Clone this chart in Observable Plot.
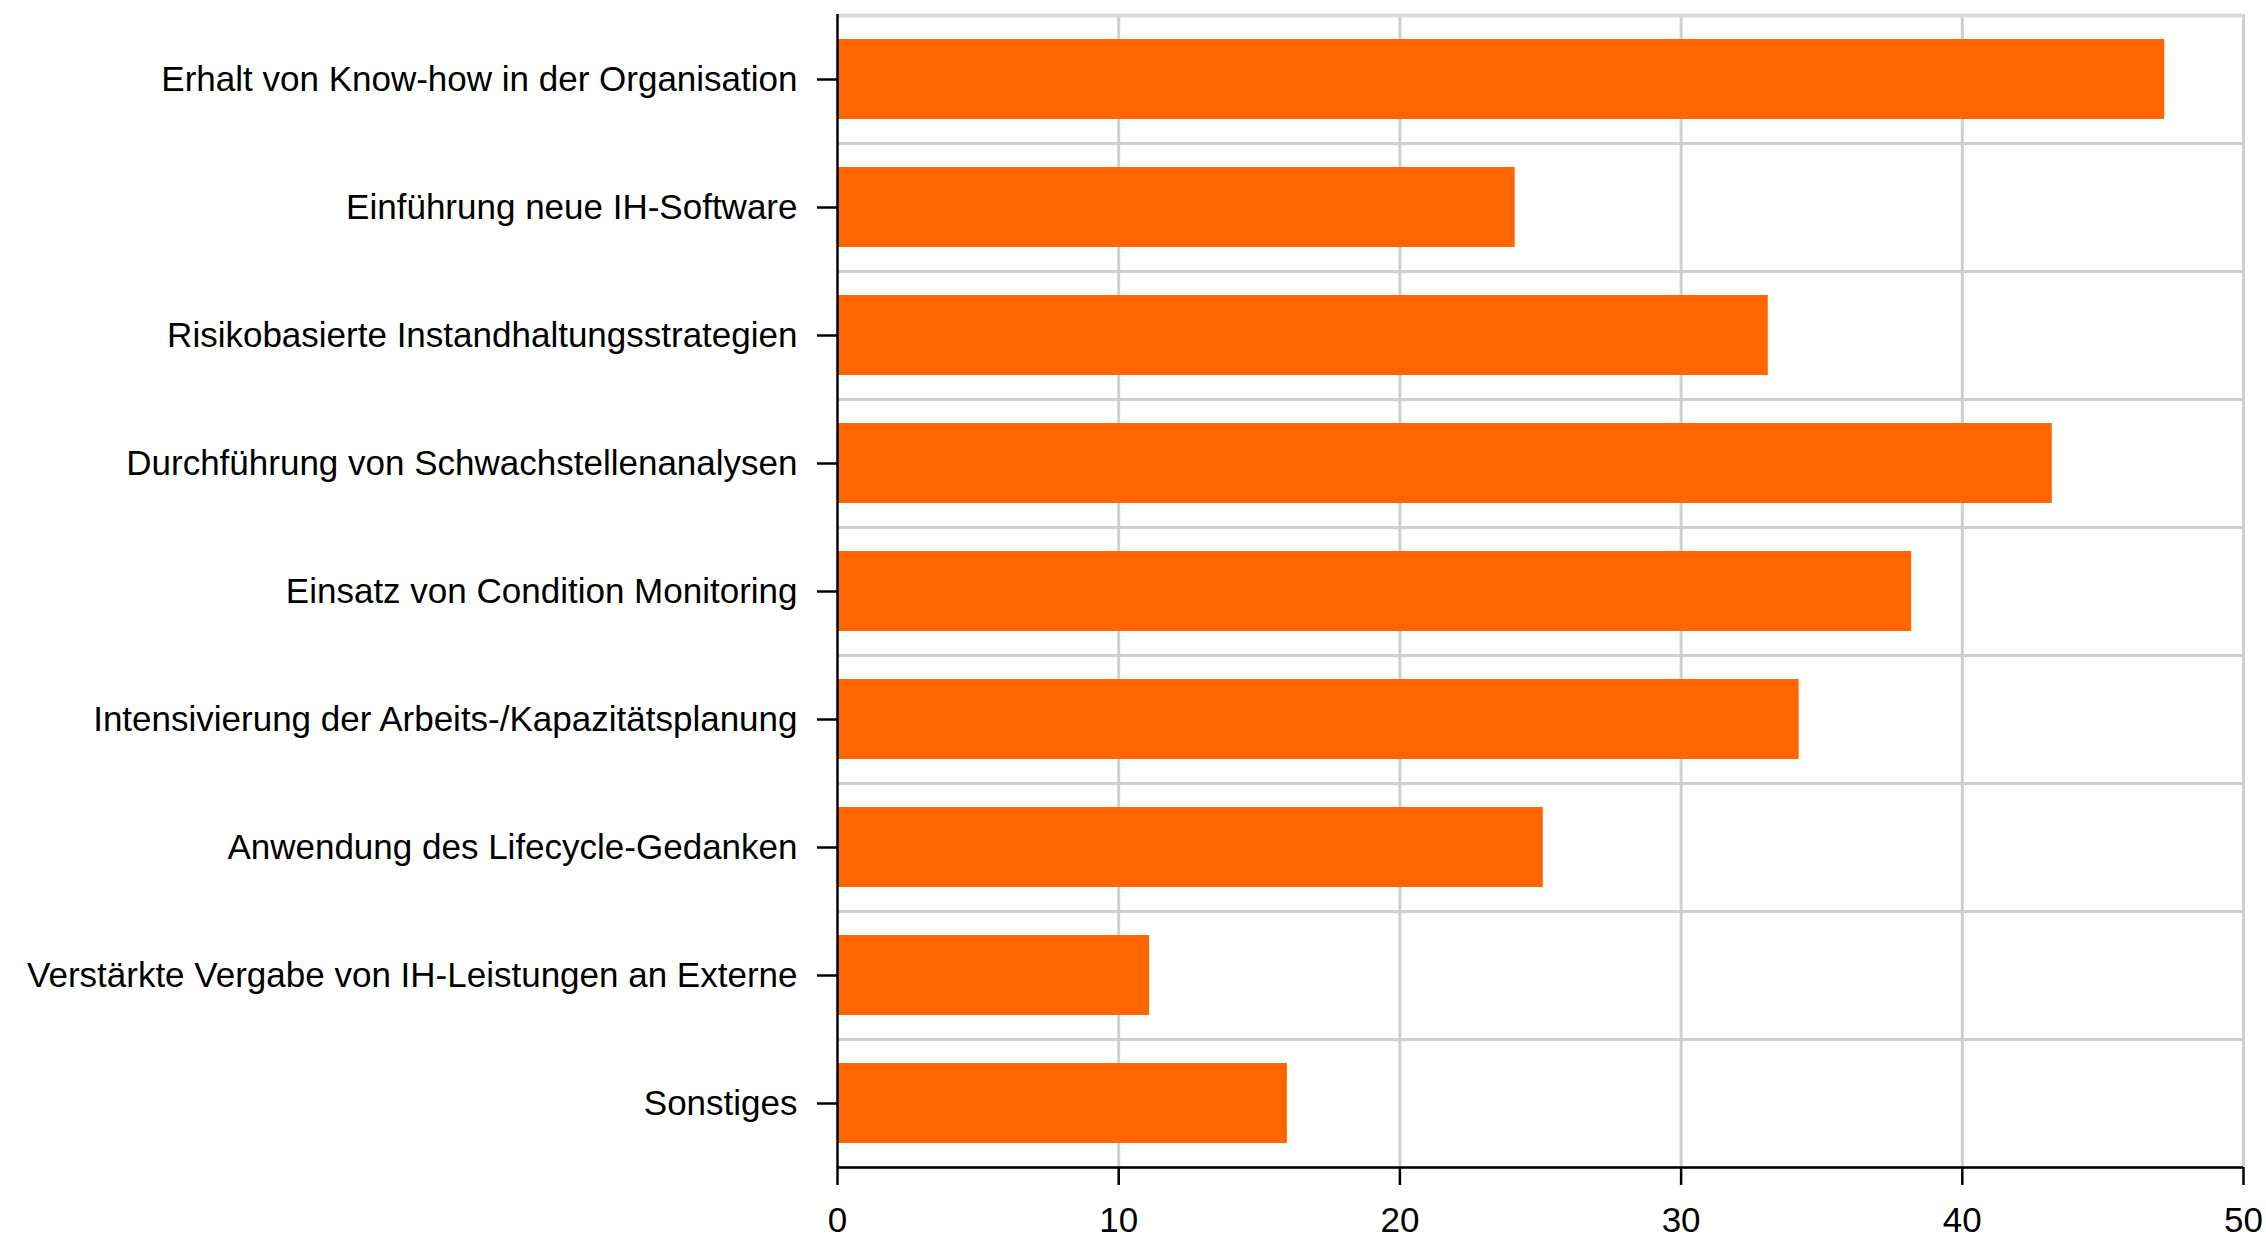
<!DOCTYPE html>
<html>
<head>
<meta charset="utf-8">
<script src="https://cdn.jsdelivr.net/npm/d3@7"></script>
<script src="https://cdn.jsdelivr.net/npm/@observablehq/plot@0.6"></script>
<style>
  html, body { margin: 0; padding: 0; background: #fff; }
  svg { display: block; }
</style>
</head>
<body>
<div id="chart"></div>
<script>
const categories = [
  "Erhalt von Know-how in der Organisation",
  "Einführung neue IH-Software",
  "Risikobasierte Instandhaltungsstrategien",
  "Durchführung von Schwachstellenanalysen",
  "Einsatz von Condition Monitoring",
  "Intensivierung der Arbeits-/Kapazitätsplanung",
  "Anwendung des Lifecycle-Gedanken",
  "Verstärkte Vergabe von IH-Leistungen an Externe",
  "Sonstiges"
];
const values = [47.2, 24.1, 33.1, 43.2, 38.2, 34.2, 25.1, 11.1, 16.0];
const xTicks = [0, 10, 20, 30, 40, 50];

const data = categories.map((c, i) => ({category: c, value: values[i]}));

const W = 2266, H = 1246;
const mTop = 14, mBottom = 79, mLeft = 837, mRight = 23;
const step = (H - mTop - mBottom) / categories.length;

const chart = Plot.plot({
  width: W,
  height: H,
  marginTop: mTop,
  marginBottom: mBottom,
  marginLeft: mLeft,
  marginRight: mRight,
  style: {fontFamily: "'Liberation Sans', Arial, sans-serif", fontSize: "35px", color: "#000", background: "#fff"},
  x: {domain: [0, 50], ticks: xTicks},
  y: {domain: categories, paddingInner: 0.375, paddingOuter: 0.1875},
  marks: [
    Plot.ruleX(xTicks.slice(1), {stroke: "#cfcfcf", strokeWidth: 3}),
    Plot.ruleY(categories, {y: d => d, dy: step / 2, stroke: "#cfcfcf", strokeWidth: 3}),
    Plot.ruleY(categories.slice(0, 1), {y: d => d, dy: -step / 2, stroke: "#dadada", strokeWidth: 4}),
    Plot.barX(data, {x: "value", y: "category", fill: "#ff6600"}),
    Plot.ruleX([0], {stroke: "#000", strokeWidth: 2.5}),
    Plot.ruleY(categories.slice(-1), {y: d => d, dy: step / 2, stroke: "#000", strokeWidth: 2.5}),
    Plot.axisX({ticks: xTicks, tickSize: 18, tickPadding: 22, strokeWidth: 2.5, fontSize: 35, label: null}),
    Plot.axisY({tickSize: 20, tickPadding: 20, strokeWidth: 2.5, fontSize: 35, label: null})
  ]
});
document.getElementById("chart").appendChild(chart);
</script>
</body>
</html>
